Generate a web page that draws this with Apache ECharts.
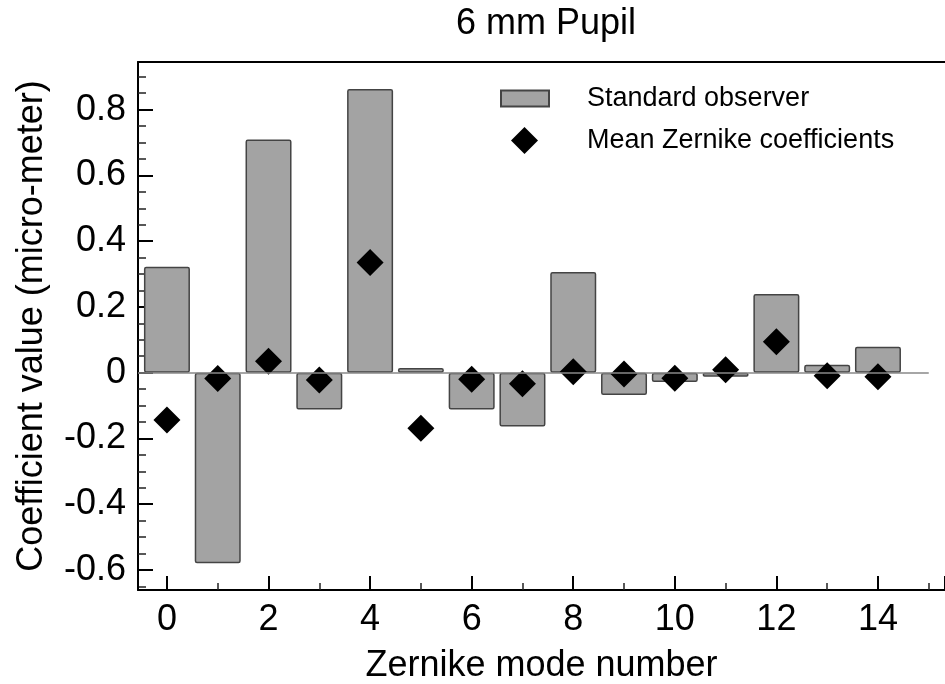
<!DOCTYPE html>
<html>
<head>
<meta charset="utf-8">
<script src="https://cdn.jsdelivr.net/npm/echarts@6/dist/echarts.min.js"></script>
<style>
  html, body { margin: 0; padding: 0; background: #fff; }
  #chart { width: 945px; height: 684px; }
</style>
</head>
<body>
<div id="chart"></div>
<script>
// Zernike mode numbers and the two series (micro-meter)
const modes = [0, 1, 2, 3, 4, 5, 6, 7, 8, 9, 10, 11, 12, 13, 14];
const standardObserver = [0.322, -0.58, 0.709, -0.112, 0.863, 0.014, -0.112, -0.164, 0.306, -0.068, -0.028, -0.012, 0.239, 0.024, 0.079];
const meanZernike = [-0.144, -0.018, 0.035, -0.022, 0.335, -0.169, -0.02, -0.034, 0.003, -0.004, -0.017, 0.009, 0.094, -0.009, -0.012];

const xRange = [-0.57, 15.32];
const yRange = [-0.661, 0.945];
const zeroLineEnd = 15;

const FONT = '"Liberation Sans", Arial, Helvetica, sans-serif';

const chart = echarts.init(document.getElementById("chart"), null, { renderer: "canvas" });

chart.setOption({
  animation: false,
  backgroundColor: "#ffffff",
  textStyle: { fontFamily: FONT, color: "#000" },
  title: {
    text: "6 mm Pupil",
    left: 546,
    top: 6,
    padding: 0,
    textAlign: "center",
    textStyle: { fontFamily: FONT, fontSize: 36, fontWeight: "normal", color: "#000" },
  },
  grid: { left: 138, right: 0, top: 62, bottom: 94, containLabel: false, outerBoundsMode: "none" },
  legend: [
    {
      data: [{ name: "Standard observer", icon: "rect" }],
      left: 500,
      top: 85,
      padding: 0,
      itemWidth: 48,
      itemHeight: 16,
      textStyle: { fontFamily: FONT, fontSize: 27, color: "#000", padding: [0, 0, 0, 33] },
      selectedMode: false,
    },
    {
      data: [{ name: "Mean Zernike coefficients", icon: "diamond" }],
      left: 511,
      top: 127,
      padding: 0,
      itemWidth: 27,
      itemHeight: 27,
      textStyle: { fontFamily: FONT, fontSize: 27, color: "#000", padding: [0, 0, 0, 44] },
      selectedMode: false,
    },
  ],
  xAxis: [
    {
      type: "value",
      min: xRange[0],
      max: xRange[1],
      splitNumber: 8,
      name: "Zernike mode number",
      nameLocation: "middle",
      nameGap: 58,
      nameTextStyle: { fontFamily: FONT, fontSize: 36, color: "#000" },
      axisLine: { show: true, onZero: false, lineStyle: { color: "#000", width: 2 } },
      axisTick: { show: true, inside: true, length: 14, lineStyle: { color: "#000", width: 2 } },
      minorTick: { show: true, splitNumber: 2, length: 7, lineStyle: { color: "#222", width: 1.5 } },
      axisLabel: { fontFamily: FONT, fontSize: 36, color: "#000", margin: 12, showMinLabel: false, showMaxLabel: false },
      splitLine: { show: false },
      minorSplitLine: { show: false },
    },
    {
      type: "value",
      position: "top",
      min: xRange[0],
      max: xRange[1],
      axisLine: { show: true, onZero: false, lineStyle: { color: "#000", width: 2 } },
      axisTick: { show: false },
      axisLabel: { show: false },
      splitLine: { show: false },
    },
  ],
  yAxis: {
    type: "value",
    min: yRange[0],
    max: yRange[1],
    splitNumber: 8,
    name: "Coefficient value (micro-meter)",
    nameLocation: "middle",
    nameGap: 88,
    nameTextStyle: { fontFamily: FONT, fontSize: 36, color: "#000" },
    axisLine: { show: true, onZero: false, lineStyle: { color: "#000", width: 2 } },
    axisTick: { show: true, inside: true, length: 15, lineStyle: { color: "#000", width: 2 } },
    minorTick: { show: true, splitNumber: 4, length: 8, lineStyle: { color: "#222", width: 1.5 } },
    axisLabel: { fontFamily: FONT, fontSize: 36, color: "#000", margin: 12, showMinLabel: false, showMaxLabel: false },
    splitLine: { show: false },
    minorSplitLine: { show: false },
  },
  series: [
    {
      name: "Standard observer",
      type: "bar",
      barWidth: 46,
      data: modes.map((m, i) => [m, standardObserver[i]]),
      itemStyle: { color: "#a3a3a3", borderColor: "#444", borderWidth: 1.5, borderRadius: 1.5 },
      markLine: {
        silent: true,
        symbol: "none",
        label: { show: false },
        lineStyle: { color: "#888", width: 1.5, type: "solid" },
        data: [[{ coord: [xRange[0], 0] }, { coord: [zeroLineEnd, 0] }]],
      },
      z: 2,
    },
    {
      name: "Mean Zernike coefficients",
      type: "scatter",
      symbol: "diamond",
      symbolSize: 27,
      data: modes.map((m, i) => [m, meanZernike[i]]),
      itemStyle: { color: "#000", opacity: 1 },
      z: 3,
    },
  ],
});
</script>
</body>
</html>
